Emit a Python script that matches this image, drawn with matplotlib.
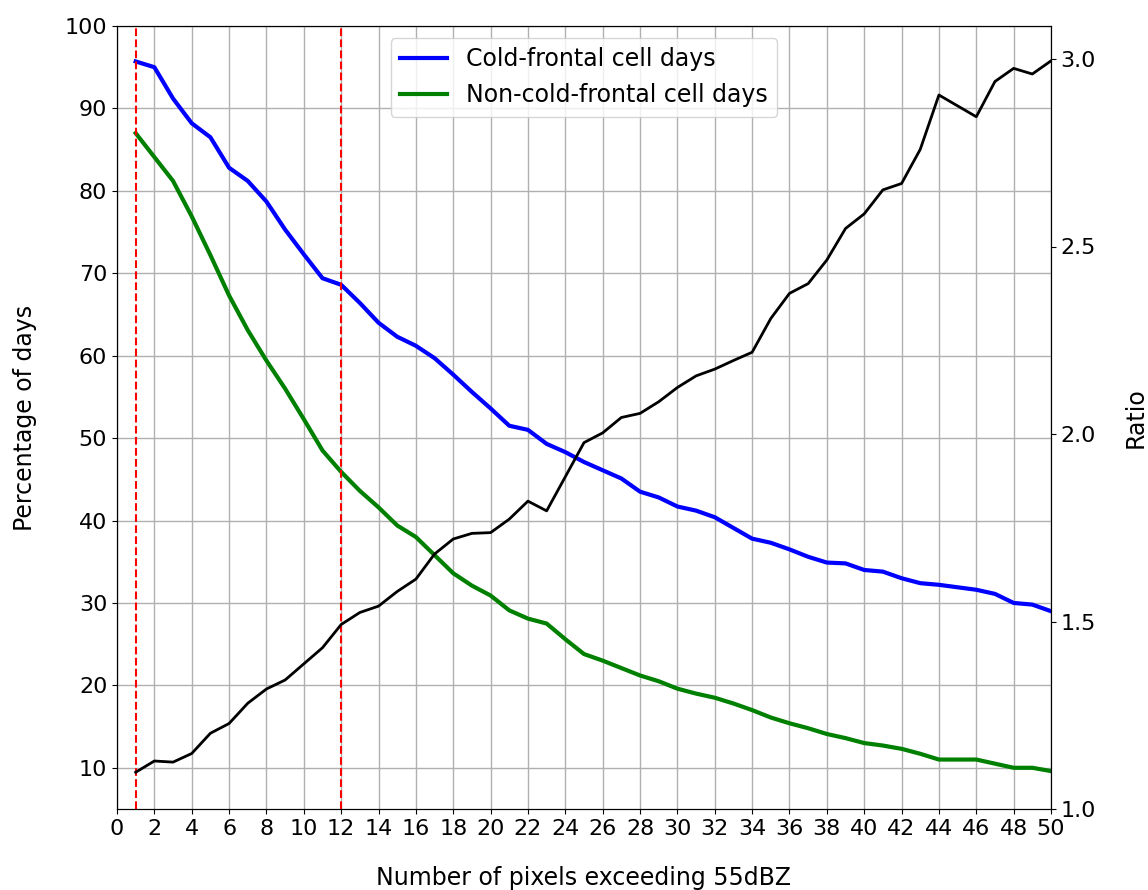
import matplotlib
matplotlib.use('Agg')
import matplotlib.pyplot as plt
import numpy as np

pixels = list(range(1, 51))

cold_frontal = [95.7, 95.0, 91.2, 88.2, 86.5, 82.8, 81.2, 78.7, 75.3, 72.3,
                69.4, 68.6, 66.4, 64.0, 62.3, 61.2, 59.7, 57.7, 55.6, 53.6,
                51.5, 51.0, 49.3, 48.3, 47.1, 46.1, 45.1, 43.5, 42.8, 41.7,
                41.2, 40.4, 39.1, 37.8, 37.3, 36.5, 35.6, 34.9, 34.8, 34.0,
                33.8, 33.0, 32.4, 32.2, 31.9, 31.6, 31.1, 30.0, 29.8, 29.0]

non_cold_frontal = [87.0, 84.1, 81.2, 76.9, 72.2, 67.3, 63.1, 59.4, 56.0, 52.3,
                    48.5, 45.9, 43.6, 41.6, 39.4, 38.0, 35.8, 33.6, 32.1, 30.9,
                    29.1, 28.1, 27.5, 25.6, 23.8, 23.0, 22.1, 21.2, 20.5, 19.6,
                    19.0, 18.5, 17.8, 17.0, 16.1, 15.4, 14.8, 14.1, 13.6, 13.0,
                    12.7, 12.3, 11.7, 11.0, 11.0, 11.0, 10.5, 10.0, 10.0, 9.6]

ratio = [1.098, 1.128, 1.125, 1.148, 1.202, 1.228, 1.282, 1.320, 1.344, 1.387,
         1.430, 1.492, 1.524, 1.541, 1.580, 1.613, 1.680, 1.720, 1.735, 1.737,
         1.773, 1.821, 1.795, 1.886, 1.977, 2.003, 2.044, 2.055, 2.086, 2.124,
         2.155, 2.173, 2.196, 2.218, 2.308, 2.375, 2.401, 2.464, 2.548, 2.587,
         2.651, 2.668, 2.759, 2.904, 2.875, 2.846, 2.940, 2.975, 2.960, 2.995]

marked = [1, 12]

plt.rcParams['font.size'] = 17
plt.rcParams['xtick.labelsize'] = 16
plt.rcParams['ytick.labelsize'] = 16

fig, ax = plt.subplots(figsize=(11.48, 8.9), dpi=100)
fig.subplots_adjust(left=117 / 1148, right=1051 / 1148, top=1 - 26 / 890, bottom=1 - 809 / 890)

ax.plot(pixels, cold_frontal, color='blue', lw=3, label='Cold-frontal cell days')
ax.plot(pixels, non_cold_frontal, color='green', lw=3, label='Non-cold-frontal cell days')
for m in marked:
    ax.axvline(m, color='red', ls='--', lw=1.5, zorder=5)

ax.set_xlim(0, 50)
ax.set_ylim(5, 100)
ax.set_xticks(np.arange(0, 51, 2))
ax.set_yticks(np.arange(10, 101, 10))
ax.grid(True, color='#b0b0b0', lw=1)
ax.set_xlabel('Number of pixels exceeding 55dBZ', labelpad=20)
ax.set_ylabel('Percentage of days', labelpad=20)
ax.legend(loc='upper center')

ax2 = ax.twinx()
ax2.plot(pixels, ratio, color='black', lw=2)
ax2.set_ylim(1.0, 3.088)
ax2.set_yticks([1.0, 1.5, 2.0, 2.5, 3.0])
ax2.set_ylabel('Ratio', labelpad=20)

fig.savefig('out.png', dpi=100)
